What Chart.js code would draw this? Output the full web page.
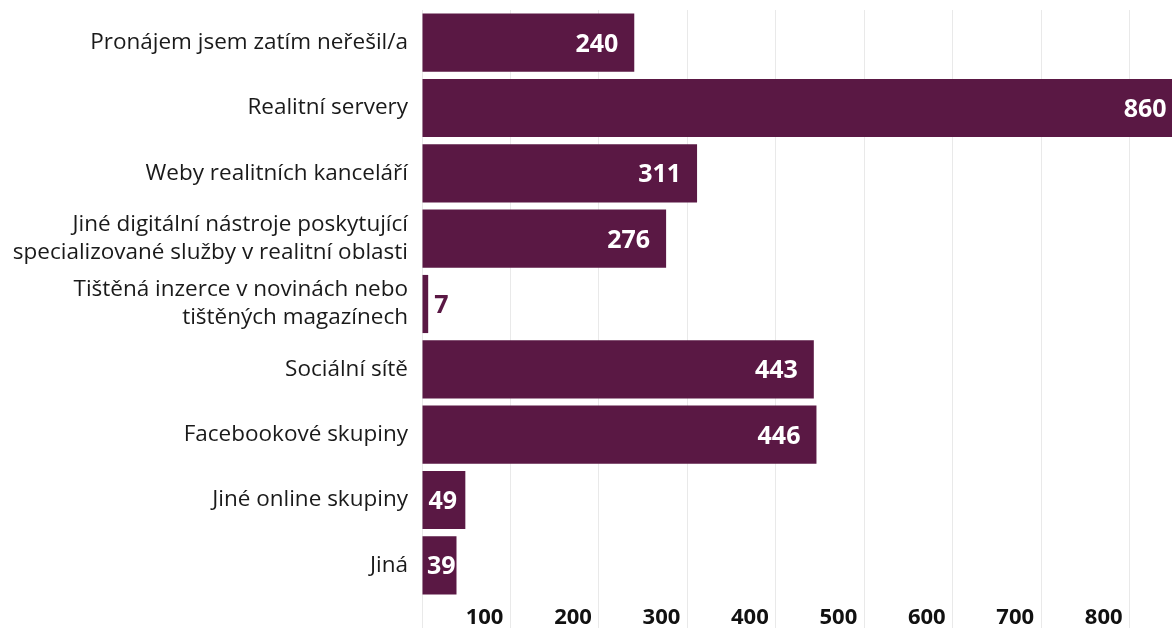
<!DOCTYPE html>
<html lang="cs">
<head>
<meta charset="utf-8">
<title>Kanály pronájmu</title>
<script src="https://cdn.jsdelivr.net/npm/chart.js@4/dist/chart.umd.min.js"></script>
<style>
  html, body { margin: 0; padding: 0; background: #ffffff; }
  body { width: 1172px; height: 628px; overflow: hidden; }
  #wrap { width: 1240px; height: 628px; }
</style>
</head>
<body>
<div id="wrap"><canvas id="chart" width="1240" height="628"></canvas></div>
<script>
// Categories (multi-line entries are arrays of lines)
const categories = [
  'Pronájem jsem zatím neřešil/a',
  'Realitní servery',
  'Weby realitních kanceláří',
  ['Jiné digitální nástroje poskytující', 'specializované služby v realitní oblasti'],
  ['Tištěná inzerce v novinách nebo', 'tištěných magazínech'],
  'Sociální sítě',
  'Facebookové skupiny',
  'Jiné online skupiny',
  'Jiná'
];

// Number of respondents per channel
const counts = [240, 860, 311, 276, 7, 443, 446, 49, 39];

// Labelled ticks on the value axis
const tickValues = [100, 200, 300, 400, 500, 600, 700, 800];

const BAR_COLOR = '#5a1844';
const FONT = '"Open Sans", "Noto Sans", sans-serif';

// Writes each count at the end of its bar: inside in white, or outside when the bar is too short
const valueLabels = {
  id: 'valueLabels',
  afterDatasetsDraw(chart) {
    const ctx = chart.ctx;
    const meta = chart.getDatasetMeta(0);
    ctx.save();
    ctx.font = 'bold 25px ' + FONT;
    ctx.textBaseline = 'middle';
    ctx.textAlign = 'left';
    meta.data.forEach((bar, i) => {
      const text = String(counts[i]);
      const w = ctx.measureText(text).width;
      const start = bar.base;
      const end = bar.x;
      const y = bar.y + 2;
      if (end - start >= w + 5) {
        let left = Math.max(end - 16 - w, start + 6);
        left = Math.min(left, end - w - 1);
        ctx.fillStyle = '#ffffff';
        ctx.fillText(text, left, y);
      } else {
        ctx.fillStyle = BAR_COLOR;
        ctx.fillText(text, end + 6, y);
      }
    });
    ctx.restore();
  }
};

new Chart(document.getElementById('chart'), {
  type: 'bar',
  data: {
    labels: categories,
    datasets: [{
      data: counts,
      backgroundColor: BAR_COLOR,
      borderWidth: 0,
      barPercentage: 0.89,
      categoryPercentage: 1
    }]
  },
  options: {
    indexAxis: 'y',
    responsive: false,
    animation: false,
    events: [],
    layout: { padding: { top: 10, right: 22, bottom: 0, left: 0 } },
    plugins: {
      legend: { display: false },
      tooltip: { enabled: false }
    },
    scales: {
      x: {
        type: 'linear',
        min: 0,
        max: 900,
        afterFit(scale) {
          scale.height = 30;
          scale.paddingLeft = 0;
          scale.paddingRight = 0;
        },
        border: { display: false },
        grid: {
          color: '#e9e9e9',
          lineWidth: 1,
          drawTicks: true,
          tickLength: 30
        },
        ticks: {
          stepSize: 100,
          align: 'end',
          labelOffset: -7,
          padding: -23,
          color: '#111111',
          font: { family: FONT, size: 22, weight: 'bold' },
          callback: (v) => tickValues.includes(v) ? String(v) : ''
        }
      },
      y: {
        afterFit(scale) {
          scale.width = 422;
          scale.paddingTop = 0;
          scale.paddingBottom = 0;
        },
        border: { display: false },
        grid: { display: false, drawTicks: false },
        ticks: {
          padding: 14,
          color: '#1a1a1a',
          font: { family: FONT, size: 22.5, weight: 500, lineHeight: 1.24 }
        }
      }
    }
  },
  plugins: [valueLabels]
});
</script>
</body>
</html>
